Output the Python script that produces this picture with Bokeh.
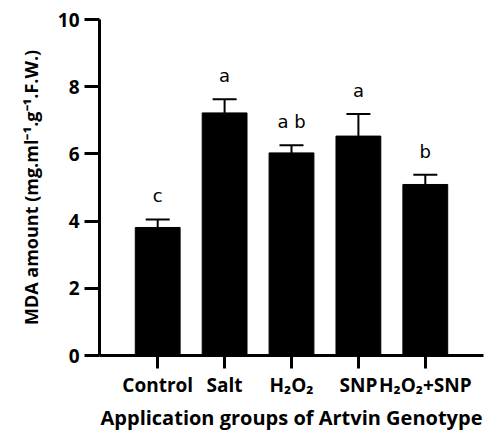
from bokeh.plotting import figure
from bokeh.models import ColumnDataSource, FactorRange, FixedTicker, Whisker, TeeHead
from bokeh.core.properties import value
from bokeh.embed import file_html
from bokeh.resources import INLINE

categories = ["Control", "Salt", "H\u2082O\u2082", "SNP", "H\u2082O\u2082+SNP"]
means = [3.81, 7.22, 6.03, 6.53, 5.09]
errors = [0.24, 0.41, 0.23, 0.66, 0.29]
letters = ["c", "a", "a b", "a", "b"]
y_ticks = [0, 2, 4, 6, 8, 10]

upper = [m + e for m, e in zip(means, errors)]
letter_y = [u + 0.7 for u in upper]

src = ColumnDataSource(dict(x=categories, mean=means, upper=upper,
                            ly=letter_y, letter=letters))

p = figure(width=494, height=433, output_backend="svg", toolbar_location=None,
           x_range=FactorRange(factors=categories, range_padding=0.37,
                               range_padding_units="absolute"),
           y_range=(0, 10))
p.min_border_left = 99
p.min_border_right = 11
p.min_border_top = 19
p.min_border_bottom = 78
p.outline_line_color = None
p.xgrid.visible = False
p.ygrid.visible = False

p.vbar(x="x", top="mean", width=0.67, source=src, fill_color="black",
       line_color="black")

w = Whisker(base="x", upper="upper", lower="mean", source=src,
            dimension="height", line_width=2, line_color="black",
            upper_head=TeeHead(size=24, line_width=2, line_color="black"),
            lower_head=None)
p.add_layout(w)

p.text(x="x", y="ly", text="letter", source=src, text_align="center",
       text_baseline="middle", text_font=value("DejaVu Sans"),
       text_font_size="18px", text_color="black")

font = "Open Sans"
for ax in (p.xaxis[0], p.yaxis[0]):
    ax.axis_line_width = 3
    ax.axis_line_color = "black"
    ax.major_tick_line_width = 3
    ax.major_tick_line_color = "black"
    ax.major_tick_in = 0
    ax.minor_tick_line_color = None
    ax.major_label_text_font = font
    ax.major_label_text_font_style = "bold"
    ax.major_label_text_font_size = "19px"
    ax.major_label_text_color = "black"
    ax.axis_label_text_font = font
    ax.axis_label_text_font_style = "bold"
    ax.axis_label_text_color = "black"

p.yaxis.ticker = FixedTicker(ticks=y_ticks)
p.yaxis.major_tick_out = 15
p.yaxis.major_label_standoff = 5
p.yaxis.axis_label = "MDA amount (mg.ml\u207b\u00b9.g\u207b\u00b9.F.W.)"
p.yaxis.axis_label_text_font_size = "18px"
p.yaxis.axis_label_standoff = 12

p.xaxis.major_tick_out = 13
p.xaxis.major_label_standoff = 3
p.xaxis.axis_label = "Application groups of Artvin Genotype"
p.xaxis.axis_label_text_font_size = "20px"
p.xaxis.axis_label_standoff = 3

open("out.html", "w").write(file_html(p, INLINE))
